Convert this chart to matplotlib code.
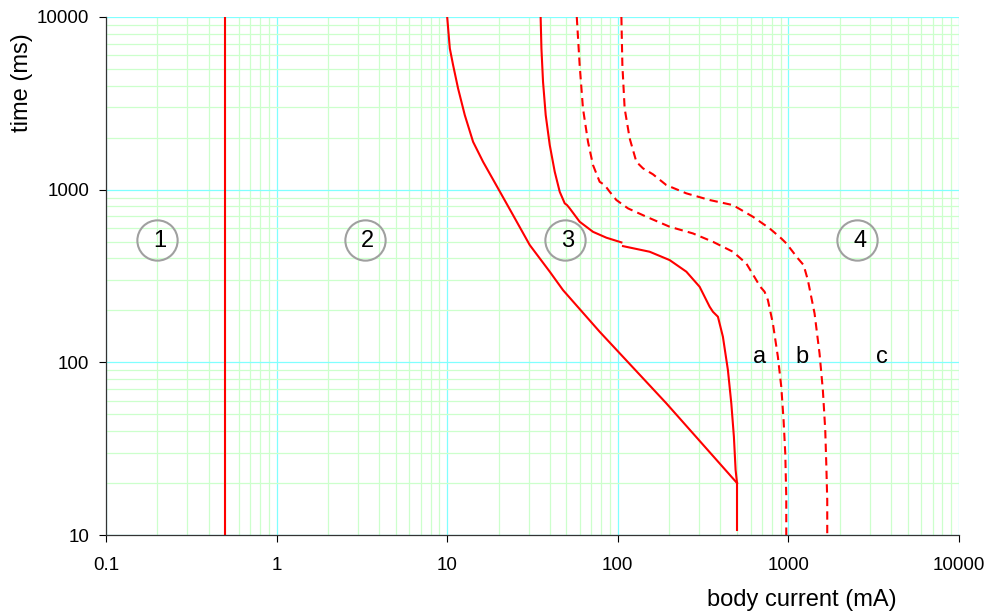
"""Time/current zones of body current effects (log-log)."""
import matplotlib.pyplot as plt
from matplotlib.ticker import LogLocator, NullFormatter

plt.rcParams["font.family"] = ["Liberation Sans", "DejaVu Sans"]

# perception threshold, mA
threshold_ma = 0.5

# left solid curve (zone 2 / zone 3 boundary)
left_i = [10.0, 10.36, 10.83, 11.58, 12.68, 14.18, 16.23, 19.87, 24.33,
          30.47, 39.92, 47.75, 78.3, 192.6, 500]
left_t = [10000, 6577, 5266, 3860, 2704, 1894, 1450, 1017, 712,
          478, 335, 262, 150.4, 57.9, 20]

# vertical tail at 500 mA
tail_i = [500, 500]
tail_t = [20, 10.7]

# middle solid curve, upper part
mid1_i = [35.3, 35.68, 36.46, 37.8, 39.92, 42.7, 45.68, 48.87, 50.4, 52.27,
          59.78, 71.57, 85.76, 105]
mid1_t = [10000, 6577, 4214, 2704, 1813, 1270, 972, 833, 814, 779,
          652, 570, 527, 495]

# middle solid curve, lower part
mid2_i = [107.3, 153.8, 201.4, 252.3, 301.8, 345.5, 361.2, 386.4, 413.3,
          442.2, 462.9, 479.4, 490.6, 500]
mid2_t = [471, 437, 391, 335, 274, 210, 196.3, 183.7, 140.7,
          90.2, 57.9, 37.1, 23.8, 20]

# dashed curve a
da_i = [57.5, 59.78, 62.5, 66.9, 71.57, 78.3, 83.8, 89.7, 98.1, 114.8, 147.1,
        201.4, 275.7, 361.2, 473.1, 566.7, 648.6, 684.5, 725.3, 758.6, 811.2,
        868, 908.7, 937.4, 959, 972, 972]
da_t = [10000, 5266, 2957, 1894, 1388, 1111, 1063, 972, 871, 779, 697,
        610, 558, 499, 437, 374, 299.6, 274, 256.4, 229.5, 168.2,
        107.8, 72.2, 46.3, 29.7, 16.7, 10]

# dashed curve b
db_i = [105, 106.4, 109.7, 117.4, 128.5, 140.5, 160.8, 192.6, 252.3, 345.5,
        473.1, 619.4, 776, 908.7, 972, 1137, 1228, 1301, 1424, 1523, 1593,
        1645, 1668, 1690, 1690]
db_t = [10000, 5266, 2957, 1982, 1450, 1329, 1227, 1063, 952, 871,
        814, 697, 597, 522, 489, 400, 366, 299.6, 192.1, 112.7, 69.1,
        40.6, 26.0, 15.9, 10]

zone_labels = ["1", "2", "3", "4"]
zone_x = [0.2, 3.29, 49.3, 2542]
zone_y = 514

curve_labels = ["a", "b", "c"]
curve_label_x = [678, 1194, 3516]
curve_label_y = 107

fig = plt.figure(figsize=(9.88, 6.13), dpi=100)
ax = fig.add_axes([0.1073, 0.1272, 0.8633, 0.8451])
ax.set_xscale("log")
ax.set_yscale("log")
ax.set_xlim(0.1, 10000)
ax.set_ylim(10, 10000)

ax.xaxis.set_minor_locator(LogLocator(base=10, subs=range(2, 10), numticks=20))
ax.yaxis.set_minor_locator(LogLocator(base=10, subs=range(2, 10), numticks=20))
ax.xaxis.set_minor_formatter(NullFormatter())
ax.yaxis.set_minor_formatter(NullFormatter())
ax.grid(True, which="minor", color="#ccffcc", linewidth=0.9)
ax.grid(True, which="major", color="#80ffff", linewidth=0.9)
ax.set_axisbelow(True)

ax.set_xticks([0.1, 1, 10, 100, 1000, 10000])
ax.set_xticklabels(["0.1", "1", "10", "100", "1000", "10000"])
ax.set_yticks([10, 100, 1000, 10000])
ax.set_yticklabels(["10", "100", "1000", "10000"])
ax.tick_params(which="major", length=5, width=0.8, labelsize=13.5, direction="out")
ax.tick_params(axis="x", pad=11)
ax.tick_params(axis="y", pad=7)
ax.tick_params(which="minor", length=0)

for side in ("top", "right"):
    ax.spines[side].set_visible(False)
for side in ("left", "bottom"):
    ax.spines[side].set_color("#333333")
    ax.spines[side].set_linewidth(0.9)

red = "#ff0000"
lw = 1.5
ax.axvline(threshold_ma, color=red, lw=lw)
ax.plot(left_i, left_t, color=red, lw=lw)
ax.plot(tail_i, tail_t, color=red, lw=lw)
ax.plot(mid1_i, mid1_t, color=red, lw=lw)
ax.plot(mid2_i, mid2_t, color=red, lw=lw)
ax.plot(da_i, da_t, color=red, lw=lw, dashes=(4, 2.5))
ax.plot(db_i, db_t, color=red, lw=lw, dashes=(4, 2.5))

for lab, x in zip(zone_labels, zone_x):
    ax.plot([x], [zone_y], marker="o", markersize=29, markerfacecolor="none",
            markeredgecolor="#a0a0a0", markeredgewidth=1.5, zorder=4)
    ax.text(x * 1.03, zone_y * 0.985, lab, fontsize=17, ha="center",
            va="center", zorder=5)

for lab, x in zip(curve_labels, curve_label_x):
    ax.text(x, curve_label_y, lab, fontsize=17, ha="center", va="center")

ax.set_xlabel("body current (mA)", fontsize=17)
ax.xaxis.set_label_coords(0.816, -0.105)
ax.set_ylabel("time (ms)", fontsize=17)
ax.yaxis.set_label_coords(-0.086, 0.874)

fig.savefig("out.png", dpi=100)
